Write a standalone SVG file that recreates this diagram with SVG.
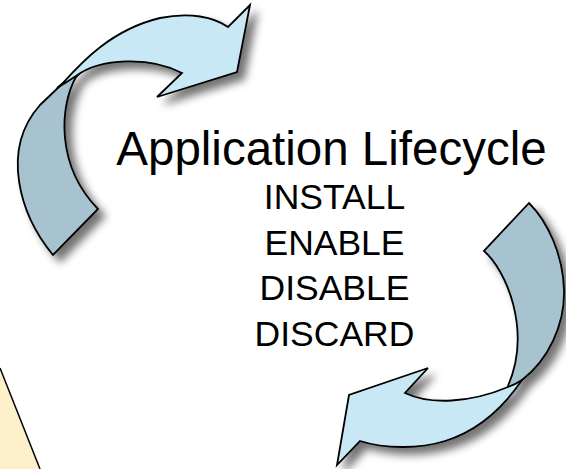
<svg xmlns="http://www.w3.org/2000/svg" width="566" height="469" viewBox="0 0 566 469">
  <defs>
    <filter id="shadow" x="-20%" y="-20%" width="140%" height="140%">
      <feGaussianBlur in="SourceAlpha" stdDeviation="4"/>
      <feOffset dx="7" dy="7" result="b"/>
      <feComponentTransfer><feFuncA type="linear" slope="0.55"/></feComponentTransfer>
      <feMerge><feMergeNode/><feMergeNode in="SourceGraphic"/></feMerge>
    </filter>
  </defs>
  <style>
    .dark { fill: #A7C3CF; stroke: #000; stroke-width: 1.8; stroke-linejoin: miter; }
    .light { fill: #C8E8F6; stroke: #000; stroke-width: 1.8; stroke-linejoin: miter; }
    .title { font-family: "Liberation Sans", Arial, sans-serif; font-size: 47.5px; fill: #000; text-anchor: middle; }
    .item { font-family: "Liberation Sans", Arial, sans-serif; font-size: 35.5px; fill: #000; text-anchor: middle; }
  </style>
  <rect width="566" height="469" fill="#fff"/>
  <g id="note-corner">
    <polygon points="0,368 40,469 0,469" fill="#FDF1CB"/>
    <line x1="0" y1="368" x2="40" y2="469" stroke="#000" stroke-width="1.5"/>
  </g>
  <g id="connectors">
    <g id="arrow-top" filter="url(#shadow)">
      <path class="dark" d="M53,255 C20,215 0,150 40,105 L62,84 L90,63 L76,77 C60,105 55,165 98,209 Z"/>
      <path class="light" d="M57,88 L62,84 C80,64 110,30 160,18 C190,12 214,17 228,27 L250,5 L237,72 L157,97 L182,73 C150,56 100,58 76,76 Q67,82 57,88 Z"/>
    </g>
    <g id="arrow-bottom" filter="url(#shadow)">
      <path class="dark" d="M529,203 C548,222 563,255 564,290 C565,325 548,360 522,380 L505,396 L508,386 C532,330 506,270 484,251 Z"/>
      <path class="light" d="M522,380 C505,405 480,430 445,441 C420,449 385,449 360,441 L337,465 L349,395 L428,368 L405,393 C430,405 470,403 508,387 Q516,384 522,380 Z"/>
    </g>
  </g>
  <g id="label">
    <text class="title" x="331.5" y="165">Application Lifecycle</text>
    <text class="item" x="334.5" y="209">INSTALL</text>
    <text class="item" x="334.5" y="255">ENABLE</text>
    <text class="item" x="334.5" y="300">DISABLE</text>
    <text class="item" x="334.5" y="346">DISCARD</text>
  </g>
</svg>
